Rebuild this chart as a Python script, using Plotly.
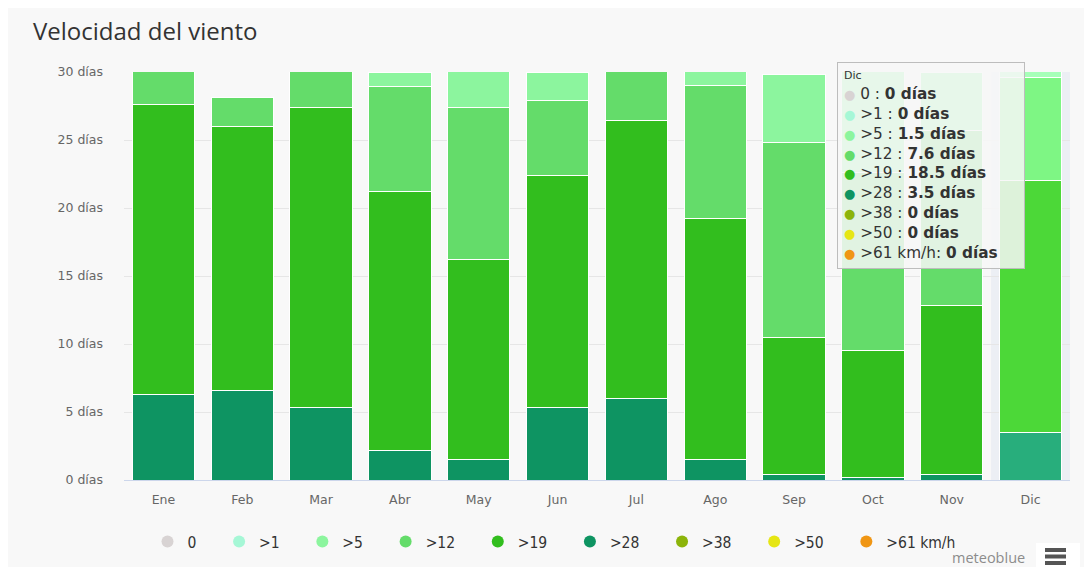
import plotly.graph_objects as go

# datos: días por mes en cada clase de velocidad (km/h)
meses = ['Ene', 'Feb', 'Mar', 'Abr', 'May', 'Jun', 'Jul', 'Ago', 'Sep', 'Oct', 'Nov', 'Dic']
clases = ['0', '>1', '>5', '>12', '>19', '>28', '>38', '>50', '>61 km/h']
colores = ['#d8d3d3', '#a6f7d6', '#8cf59e', '#64dc6a', '#32be1e', '#0e9462', '#8cb40a', '#e6e614', '#f09614']

v0 = [0, 0, 0, 0, 0, 0, 0, 0, 0, 0, 0, 0]
v1 = [0, 0, 0, 0, 0, 0, 0, 0, 0, 0, 0, 0]
v5 = [0, 0, 0, 1.1, 3.6, 2.1, 0, 2.0, 5.0, 8.4, 4.3, 1.5]
v12 = [3.4, 2.1, 3.6, 7.7, 11.2, 5.5, 4.6, 9.8, 14.3, 13.1, 12.9, 7.6]
v19 = [21.3, 19.4, 22.1, 19.0, 14.7, 17.1, 20.4, 17.7, 10.1, 9.3, 12.4, 18.5]
v28 = [6.3, 6.6, 5.3, 2.2, 1.5, 5.3, 6.0, 1.5, 0.4, 0.2, 0.4, 3.5]
v38 = [0, 0, 0, 0, 0, 0, 0, 0, 0, 0, 0, 0]
v50 = [0, 0, 0, 0, 0, 0, 0, 0, 0, 0, 0, 0]
v61 = [0, 0, 0, 0, 0, 0, 0, 0, 0, 0, 0, 0]
series = [v0, v1, v5, v12, v19, v28, v38, v50, v61]

ticks_y = [0, 5, 10, 15, 20, 25, 30]

mes_activo = 'Dic'  # columna con el tooltip abierto

# la pagina pone el grafico 8px abajo/derecha, las medidas van en px de pantalla
OFF = 8
W, H = 1092, 567
L, R, T, B = 124 - OFF, 30, 72 - OFF, 95
pw, ph = W - L - R, H - T - B


def px2x(px):
    return (px - OFF - L) / pw


def py2y(py):
    return (H - B - (py - OFF)) / ph


def aclarar(hexcol, k=25.5):
    c = [int(hexcol[i:i + 2], 16) for i in (1, 3, 5)]
    c = [min(255, int(round(v + k))) for v in c]
    return '#%02x%02x%02x' % tuple(c)


fig = go.Figure()

# apilado: la primera clase queda arriba, por eso se dibuja al reves
for nombre, col, vals in reversed(list(zip(clases, colores, series))):
    cols = [aclarar(col) if m == mes_activo else col for m in meses]
    fig.add_trace(go.Bar(x=meses, y=vals, name=nombre, showlegend=False,
                         marker=dict(color=cols, line=dict(color='white', width=1))))

# leyenda con circulos
for nombre, col in zip(clases, colores):
    fig.add_trace(go.Scatter(x=[None], y=[None], mode='markers', name=nombre + '\u00a0' * 4,
                             marker=dict(color=col, size=15, symbol='circle')))

# tooltip de diciembre
i = meses.index(mes_activo)
lineas = ["<span style='font-size:11px'>%s</span>" % mes_activo]
for nombre, col, vals in zip(clases, colores, series):
    v = vals[i]
    sep = ': ' if nombre.endswith('h') else ' : '
    lineas.append("<span style='color:%s;font-size:13px'>●</span> %s%s<b>%g días</b>" % (col, nombre, sep, v))

fig.add_annotation(text='<br>'.join(lineas), xref='paper', yref='paper',
                   x=px2x(837), y=py2y(62), xanchor='left', yanchor='top', align='left',
                   showarrow=False, bgcolor='rgba(247,247,247,0.85)', bordercolor='#bdbdbd',
                   borderwidth=1, borderpad=6, width=174,
                   font=dict(family='DejaVu Sans', size=15.3, color='#333333'))

fig.add_annotation(text='meteoblue', xref='paper', yref='paper', x=px2x(1027), y=py2y(557),
                   xanchor='right', yanchor='middle', showarrow=False,
                   font=dict(family='Open Sans', size=14.5, color='#8c8c8c'))

shapes = [
    # banda de hover
    dict(type='rect', xref='x', yref='paper', x0=i - 0.5, x1=i + 0.5, y0=0, y1=1,
         fillcolor='rgba(204,214,235,0.28)', line=dict(width=0), layer='below'),
    # menu
    dict(type='rect', xref='paper', yref='paper', x0=px2x(1036), x1=px2x(1080), y0=py2y(575), y1=py2y(543),
         fillcolor='white', line=dict(width=0)),
]
for yy in (550, 556.5, 563):
    shapes.append(dict(type='line', xref='paper', yref='paper', x0=px2x(1045), x1=px2x(1066),
                       y0=py2y(yy), y1=py2y(yy), line=dict(color='#555555', width=4)))

fig.update_layout(
    width=W, height=H,
    margin=dict(l=L, r=R, t=T, b=B),
    barmode='stack', bargap=0.21,
    paper_bgcolor='#f8f8f8', plot_bgcolor='#f8f8f8',
    title=dict(text='Velocidad del viento', xref='container', yref='container',
               x=(33 - OFF) / W, xanchor='left', y=1 - (32 - OFF) / H, yanchor='middle',
               font=dict(family='Open Sans', size=24, color='#333333')),
    legend=dict(orientation='h', traceorder='normal', xanchor='center', x=px2x(563),
                yanchor='middle', y=py2y(542),
                font=dict(family='DejaVu Sans Condensed, Liberation Sans Narrow', size=15.5, color='#333333'),
                bgcolor='rgba(0,0,0,0)', itemsizing='constant'),
    shapes=shapes,
    showlegend=True,
)
fig.update_yaxes(range=[0, 30], tickvals=ticks_y, ticktext=['%d días' % t for t in ticks_y],
                 gridcolor='#e6e6e6', zeroline=False, ticklabelstandoff=20,
                 tickfont=dict(family='DejaVu Sans', size=12.5, color='#666666'))
fig.update_xaxes(showline=True, linecolor='#ccd6eb', linewidth=1, ticklabelstandoff=8,
                 tickfont=dict(family='DejaVu Sans', size=12.5, color='#666666'))

fig.write_html("out.html")
